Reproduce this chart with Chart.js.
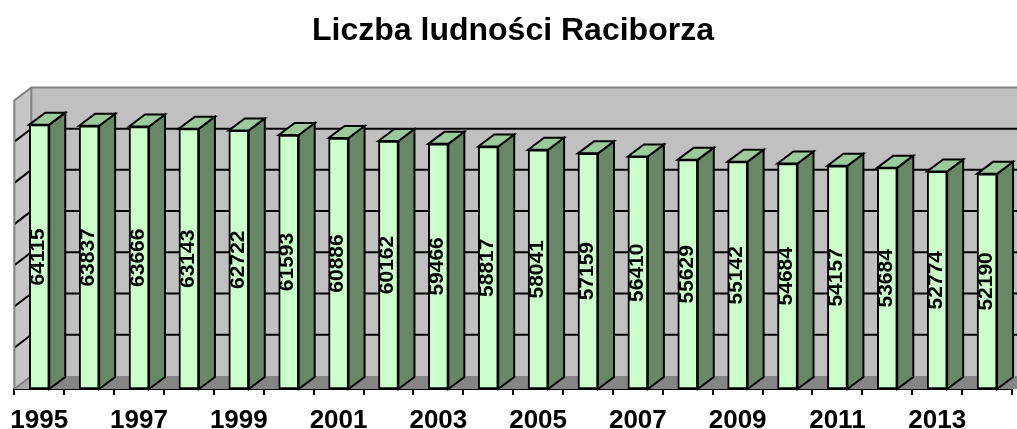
<!DOCTYPE html>
<html><head><meta charset="utf-8">
<script src="https://cdn.jsdelivr.net/npm/chart.js@4"></script>
<style>html,body{margin:0;padding:0;background:#fff}#wrap{width:1017px;height:429px}</style>
</head><body><div id="wrap"><canvas id="c" width="1017" height="429"></canvas></div>
<script>
const years = ['1995','1996','1997','1998','1999','2000','2001','2002','2003','2004','2005','2006','2007','2008','2009','2010','2011','2012','2013','2014'];
const population = [64115,63837,63666,63143,62722,61593,60886,60162,59466,58817,58041,57159,56410,55629,55142,54684,54157,53684,52774,52190];
const yTicks = [0,10000,20000,30000,40000,50000,60000,70000];
const titleText = 'Liczba ludności Raciborza';

const FONT = '"Liberation Sans", Arial, sans-serif';
const WALL_DX = 17, WALL_DY = 13;
const BAR_DX = 16, BAR_DY = 12;

function poly(ctx, pts, fill, stroke, lw) {
  ctx.beginPath();
  ctx.moveTo(pts[0][0], pts[0][1]);
  for (let i = 1; i < pts.length; i++) ctx.lineTo(pts[i][0], pts[i][1]);
  ctx.closePath();
  if (fill) { ctx.fillStyle = fill; ctx.fill(); }
  if (stroke) { ctx.strokeStyle = stroke; ctx.lineWidth = lw || 1; ctx.lineJoin = 'miter'; ctx.stroke(); }
}

const threeD = {
  id: 'threeD',
  beforeDatasetsDraw(chart) {
    const {ctx, chartArea: {left, right, top, bottom}, scales: {y}} = chart;
    const W = chart.width + 40;
    ctx.save();
    poly(ctx, [[left + WALL_DX, top - WALL_DY], [W, top - WALL_DY], [W, bottom - WALL_DY], [left + WALL_DX, bottom - WALL_DY]], '#c0c0c0');
    poly(ctx, [[left, top], [left + WALL_DX, top - WALL_DY], [left + WALL_DX, bottom - WALL_DY], [left, bottom]], '#c6c6c6');
    poly(ctx, [[left, bottom], [W, bottom], [W + WALL_DX, bottom - WALL_DY], [left + WALL_DX, bottom - WALL_DY]], '#858585');
    poly(ctx, [[left, bottom], [left + WALL_DX + 12, bottom], [left + WALL_DX, bottom - WALL_DY]], '#a8a8a8');
    ctx.strokeStyle = '#000';
    ctx.lineWidth = 2;
    yTicks.forEach(v => {
      if (v === yTicks[0] || v === yTicks[yTicks.length - 1]) return;
      const py = y.getPixelForValue(v);
      ctx.beginPath();
      ctx.moveTo(left, py);
      ctx.lineTo(left + WALL_DX, py - WALL_DY);
      ctx.lineTo(W, py - WALL_DY);
      ctx.stroke();
    });
    ctx.strokeStyle = '#808080';
    ctx.lineWidth = 2;
    ctx.beginPath();
    ctx.moveTo(left, bottom);
    ctx.lineTo(left, top);
    ctx.lineTo(left + WALL_DX, top - WALL_DY);
    ctx.lineTo(W, top - WALL_DY);
    ctx.moveTo(left + WALL_DX, top - WALL_DY);
    ctx.lineTo(left + WALL_DX, bottom - WALL_DY);
    ctx.lineTo(left, bottom);
    ctx.stroke();
    ctx.restore();
  },
  afterDatasetsDraw(chart) {
    const {ctx} = chart;
    const meta = chart.getDatasetMeta(0);
    ctx.save();
    meta.data.forEach((bar, i) => {
      const l = bar.x - bar.width / 2, r = bar.x + bar.width / 2;
      const t = bar.y, b = bar.base;
      poly(ctx, [[r, t], [r + BAR_DX, t - BAR_DY], [r + BAR_DX, b - BAR_DY], [r, b]], '#678767', '#000', 2);
      poly(ctx, [[l, t], [l + BAR_DX, t - BAR_DY], [r + BAR_DX, t - BAR_DY], [r, t]], '#9dca9d', '#000', 2);
      ctx.save();
      ctx.translate(bar.x - 1, (t + b) / 2);
      ctx.rotate(-Math.PI / 2);
      ctx.font = 'bold 21px ' + FONT;
      ctx.fillStyle = '#000';
      ctx.textAlign = 'center';
      ctx.textBaseline = 'middle';
      ctx.fillText(String(population[i]), 0, 0);
      ctx.restore();
    });
    ctx.restore();
  }
};

new Chart(document.getElementById('c'), {
  type: 'bar',
  data: {
    labels: years,
    datasets: [{
      data: population,
      backgroundColor: '#ccffcc',
      borderColor: '#000',
      borderWidth: 2,
      barThickness: 20,
      borderSkipped: false
    }]
  },
  options: {
    responsive: false,
    devicePixelRatio: 1,
    animation: false,
    layout: {padding: {left: 14, right: 5, top: 0, bottom: 0}},
    plugins: {
      legend: {display: false},
      tooltip: {enabled: false},
      title: {
        display: true,
        text: titleText,
        color: '#000',
        font: {family: FONT, size: 32, weight: 'bold'},
        padding: {top: 12, bottom: 50}
      }
    },
    scales: {
      x: {
        offset: true,
        grid: {display: true, offset: true, drawOnChartArea: false, drawTicks: true, tickLength: 6, color: '#000', lineWidth: 2},
        border: {display: true, color: '#000', width: 2},
        ticks: {
          autoSkip: false, maxRotation: 0, minRotation: 0, padding: 10,
          color: '#000',
          font: {family: FONT, size: 26, weight: 'bold'},
          callback: (v, i) => (i % 2 === 0 ? years[i] : '')
        },
        afterFit: s => { s.height = 40; }
      },
      y: {
        display: false,
        min: yTicks[0],
        max: yTicks[yTicks.length - 1],
        ticks: {stepSize: 10000}
      }
    }
  },
  plugins: [threeD]
});
</script>
</body></html>
